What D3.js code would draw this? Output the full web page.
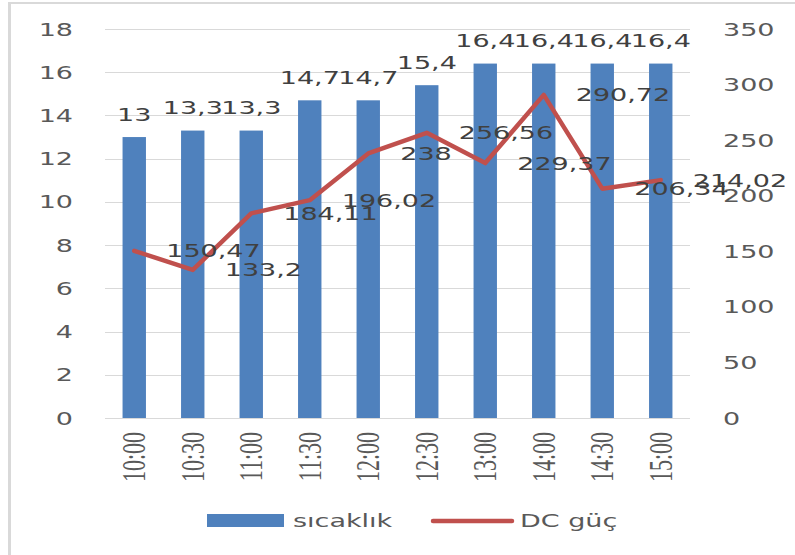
<!DOCTYPE html>
<html>
<head>
<meta charset="utf-8">
<script src="https://cdn.jsdelivr.net/npm/d3@7"></script>
<style>
  html, body { margin: 0; padding: 0; background: #fff; }
  svg { display: block; }
</style>
</head>
<body>
<svg id="chart" width="795" height="555"></svg>
<script>
var times = ["10:00", "10:30", "11:00", "11:30", "12:00", "12:30", "13:00", "14:00", "14:30", "15:00"];
var sicaklik = [13, 13.3, 13.3, 14.7, 14.7, 15.4, 16.4, 16.4, 16.4, 16.4];
var dcGuc = [150.47, 133.2, 184.11, 196.02, 238, 256.56, 229.37, 290.72, 206.34, 214.02];
var leftTicks = [0, 2, 4, 6, 8, 10, 12, 14, 16, 18];
var rightTicks = [0, 50, 100, 150, 200, 250, 300, 350];

var svg = d3.select("#chart"),
    sx = 1.5,
    font = "'DejaVu Sans', sans-serif",
    plotLeft = 105, plotRight = 690, plotTop = 29, plotBottom = 418;

var x = d3.scaleBand().domain(times).range([plotLeft, plotRight]).padding(0),
    yL = d3.scaleLinear().domain([0, 18]).range([plotBottom, plotTop]),
    yR = d3.scaleLinear().domain([0, 350]).range([plotBottom, plotTop]),
    barW = x.bandwidth() * 0.4,
    cx = d => x(d) + x.bandwidth() / 2;

var fmt = v => String(v).replace(".", ",");

// frame
svg.append("line").attr("x1", 9.5).attr("x2", 9.5).attr("y1", 2).attr("y2", 555)
  .attr("stroke", "#d9d9d9").attr("stroke-width", 3);
svg.append("line").attr("x1", 8).attr("x2", 795).attr("y1", 3).attr("y2", 3)
  .attr("stroke", "#d9d9d9").attr("stroke-width", 2);

// gridlines
svg.append("g").selectAll("line")
  .data(leftTicks)
  .enter().append("line")
  .attr("x1", plotLeft).attr("x2", plotRight)
  .attr("y1", d => Math.round(yL(d)) + 0.5).attr("y2", d => Math.round(yL(d)) + 0.5)
  .attr("stroke", "#d9d9d9").attr("stroke-width", 1);

// stretched text helper
function stext(g, x0, y0, str, anchor, color, size) {
  return g.append("text")
    .attr("transform", "translate(" + x0 + "," + y0 + ") scale(" + sx + ",1)")
    .attr("text-anchor", anchor)
    .attr("font-family", font)
    .attr("font-size", size || 18)
    .attr("fill", color)
    .text(str);
}

// left axis labels
var gl = svg.append("g");
leftTicks.forEach(function(t) {
  stext(gl, 73, yL(t) + 6.5, t, "end", "#595959");
});

// right axis labels
var gr = svg.append("g");
rightTicks.forEach(function(t) {
  stext(gr, 723, yR(t) + 6.5, t, "start", "#595959");
});

// bars
svg.append("g").selectAll("rect")
  .data(sicaklik)
  .enter().append("rect")
  .attr("x", (d, i) => cx(times[i]) - barW / 2)
  .attr("y", d => yL(d))
  .attr("width", barW)
  .attr("height", d => plotBottom - yL(d))
  .attr("fill", "#4f81bd");

// line
var line = d3.line()
  .x((d, i) => cx(times[i]))
  .y(d => yR(d));

svg.append("path")
  .datum(dcGuc)
  .attr("d", line)
  .attr("fill", "none")
  .attr("stroke", "#c0504d")
  .attr("stroke-width", 4.5)
  .attr("stroke-linejoin", "round")
  .attr("stroke-linecap", "round");

// bar labels
var gb = svg.append("g");
sicaklik.forEach(function(v, i) {
  stext(gb, cx(times[i]), yL(v) - 16.5, fmt(v), "middle", "#404040");
});

// line labels
var gn = svg.append("g");
dcGuc.forEach(function(v, i) {
  stext(gn, cx(times[i]) + 32, yR(v) + 6.5, fmt(v), "start", "#404040");
});

// x axis labels
svg.append("clipPath").attr("id", "xclip")
  .append("rect").attr("x", 0).attr("y", 420).attr("width", 795).attr("height", 63);

svg.append("g").attr("clip-path", "url(#xclip)")
  .selectAll("text")
  .data(times)
  .enter().append("text")
  .attr("transform", d => "translate(" + (cx(d) + 11) + ",432) rotate(-90) scale(1," + sx + ")")
  .attr("text-anchor", "end")
  .attr("font-family", "'Liberation Serif', serif")
  .attr("font-size", 22)
  .attr("fill", "#595959")
  .text(d => d);

// legend
var lg = svg.append("g");
lg.append("rect").attr("x", 207).attr("y", 514).attr("width", 77).attr("height", 13).attr("fill", "#4f81bd");
stext(lg, 293, 527, "sıcaklık", "start", "#595959");
lg.append("line").attr("x1", 433).attr("x2", 512).attr("y1", 521).attr("y2", 521)
  .attr("stroke", "#c0504d").attr("stroke-width", 4.5).attr("stroke-linecap", "round");
stext(lg, 520, 527, "DC güç", "start", "#595959");
</script>
</body>
</html>
